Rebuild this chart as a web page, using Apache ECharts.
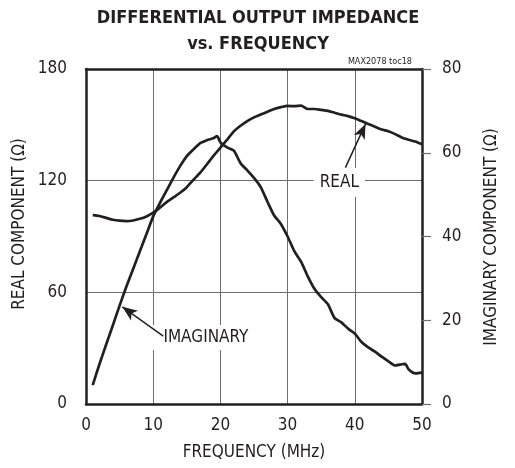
<!DOCTYPE html>
<html>
<head>
<meta charset="utf-8">
<script src="https://cdn.jsdelivr.net/npm/echarts@6/dist/echarts.min.js"></script>
<style>
html,body{margin:0;padding:0;background:#fff;}
#chart{width:515px;height:468px;}
</style>
</head>
<body>
<div id="chart"></div>
<script>
// Frequency (MHz)
var freqReal = [1,2,3,4,5,6,7,8,9,10,11,12,13,14,15,16,17,18,19,20,21,22,23,24,25,26,27,28,29,30,31,32,33,34,35,36,37,38,39,40,41,42,43,44,45,46,47,48,49,50];
// Real component (ohm), left axis
var realValues = [101.5,101,100,99,98.5,98.3,98.6,99.5,100.8,102.8,105.5,108.5,111,113.5,116.5,120.5,124.3,128.8,133.5,137.7,142,146.5,149.5,152,154,155.5,157,158.5,159.5,160.2,160,160.3,158.5,158.5,158,157.5,156.5,155.5,154.7,153.5,152,150.5,149,147.5,146.5,145,143.2,142,141,139.5];
// Frequency for imaginary curve (MHz)
var freqImag = [1,2,3,4,5,6,7,8,9,10,11,12,13,14,15,16,17,18,19,19.5,20,21,22,23,24,25,26,27,28,29,30,31,32,33,34,35,36,37,38,39,40,41,42,43,44,45,46,47,47.5,48,49,50];
// Imaginary component (ohm), right axis
var imagValues = [4.5,9.5,14.2,18.8,23.5,28,32.2,36.4,40.6,44.8,48,51,54,56.8,59.2,60.8,62.3,63,63.5,64,62.5,61.3,60.5,57.5,55.8,54,51.8,48.3,45,43,40,36.5,34,30.5,27.5,25.5,23.8,20.5,19.5,18,16.8,14.8,13.5,12.5,11.3,10.2,9.2,9.5,9.6,8.3,7.3,7.5];

var xTicks = [0,10,20,30,40,50];
var realTicks = [0,60,120,180];
var imagTicks = [0,20,40,60,80];

var FONT = "'Liberation Sans Narrow','Arial Narrow','DejaVu Sans Condensed',sans-serif";
var INK = '#231f20';

function pairs(xs, ys){ return xs.map(function(x,i){ return [x, ys[i]]; }); }

var chart = echarts.init(document.getElementById('chart'));
chart.setOption({
  animation: false,
  backgroundColor: '#fff',
  textStyle: { fontFamily: FONT, color: INK },
  title: [
    { text: 'DIFFERENTIAL OUTPUT IMPEDANCE\nvs. FREQUENCY', left: 253, top: 0, textAlign: 'center',
      textStyle: { fontFamily: FONT, fontSize: 18, fontWeight: 'bold', lineHeight: 26, color: INK } },
    { text: 'MAX2078 toc18', right: 98, top: 52,
      textStyle: { fontFamily: FONT, fontSize: 9, fontWeight: 'normal', color: INK } }
  ],
  grid: { left: 86, right: 93, top: 69, bottom: 64 },
  xAxis: [
    { type: 'value', min: 0, max: 50, interval: 10, position: 'bottom',
      name: 'FREQUENCY (MHz)', nameLocation: 'middle', nameGap: 40,
      nameTextStyle: { fontFamily: FONT, fontSize: 17, color: INK },
      axisLine: { show: true, onZero: false, lineStyle: { color: INK, width: 2.5 } },
      axisTick: { show: false }, minorTick: { show: false },
      axisLabel: { fontFamily: FONT, fontSize: 17, color: INK, margin: 13,
        formatter: function(v){ return xTicks.indexOf(v) >= 0 ? String(v) : ''; } },
      splitLine: { show: true, lineStyle: { color: '#6d6d6d', width: 1 } } },
    { type: 'value', min: 0, max: 50, interval: 10, position: 'top',
      axisLine: { show: true, onZero: false, lineStyle: { color: INK, width: 2.5 } },
      axisTick: { show: false }, axisLabel: { show: false }, splitLine: { show: false } }
  ],
  yAxis: [
    { type: 'value', min: 0, max: 180, interval: 60, position: 'left',
      axisLine: { show: true, onZero: false, lineStyle: { color: INK, width: 2.5 } },
      axisTick: { show: false }, minorTick: { show: false },
      axisLabel: { fontFamily: FONT, fontSize: 17, color: INK, margin: 19,
        formatter: function(v){ return realTicks.indexOf(v) >= 0 ? String(v) : ''; } },
      splitLine: { show: true, lineStyle: { color: '#6d6d6d', width: 1 } } },
    { type: 'value', min: 0, max: 80, interval: 20, position: 'right', alignTicks: false,
      axisLine: { show: true, onZero: false, lineStyle: { color: INK, width: 2.5 } },
      axisTick: { show: true, inside: false, length: 9, lineStyle: { color: '#6d6d6d', width: 1.2 } },
      axisLabel: { fontFamily: FONT, fontSize: 17, color: INK, margin: 20,
        formatter: function(v){ return imagTicks.indexOf(v) >= 0 ? String(v) : ''; } },
      splitLine: { show: false } }
  ],
  graphic: [
    { type: 'text', x: 20, y: 224, rotation: Math.PI / 2,
      style: { text: 'REAL COMPONENT (Ω)', fontFamily: FONT, fontSize: 17, fill: INK, align: 'center', verticalAlign: 'middle' } },
    { type: 'text', x: 492, y: 237, rotation: Math.PI / 2,
      style: { text: 'IMAGINARY COMPONENT (Ω)', fontFamily: FONT, fontSize: 17, fill: INK, align: 'center', verticalAlign: 'middle' } }
  ],
  series: [
    { name: 'REAL', type: 'line', xAxisIndex: 0, yAxisIndex: 0, data: pairs(freqReal, realValues),
      showSymbol: false, smooth: 0.2, lineStyle: { color: INK, width: 2.7 }, z: 3,
      markLine: { silent: true, z: 8, symbol: ['none', 'arrow'], symbolSize: [9, 15], animation: false,
        lineStyle: { color: INK, width: 1.5, type: 'solid' }, label: { show: false },
        data: [[ { coord: [38.6, 127] }, { coord: [41.6, 150.5] } ]] },
      markPoint: { silent: true, z: 5, symbol: 'rect', symbolSize: 0, animation: false,
        label: { show: true, position: 'inside', formatter: 'REAL', fontFamily: FONT, fontSize: 17, color: INK,
          backgroundColor: '#fff', padding: [6, 6] },
        data: [ { coord: [37.7, 119] } ] } },
    { name: 'IMAGINARY', type: 'line', xAxisIndex: 0, yAxisIndex: 1, data: pairs(freqImag, imagValues),
      showSymbol: false, smooth: 0.2, lineStyle: { color: INK, width: 2.7 }, z: 3,
      markLine: { silent: true, z: 8, symbol: ['none', 'arrow'], symbolSize: [9, 15], animation: false,
        lineStyle: { color: INK, width: 1.5, type: 'solid' }, label: { show: false },
        data: [[ { coord: [11.5, 16.2] }, { coord: [5.4, 23.2] } ]] },
      markPoint: { silent: true, z: 5, symbol: 'rect', symbolSize: 0, animation: false,
        label: { show: true, position: 'inside', formatter: 'IMAGINARY', fontFamily: FONT, fontSize: 17, color: INK,
          backgroundColor: '#fff', padding: [4, 4, 4, 14] },
        data: [ { coord: [17.1, 15.9] } ] } }
  ]
});
</script>
</body>
</html>
